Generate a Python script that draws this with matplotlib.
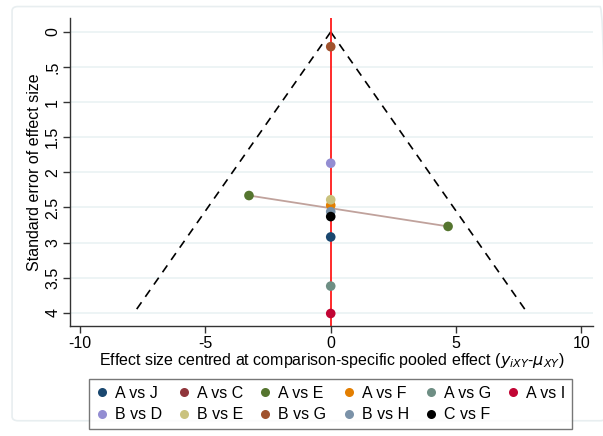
import matplotlib
matplotlib.use("Agg")
import matplotlib.pyplot as plt
from matplotlib.patches import FancyBboxPatch
from matplotlib.lines import Line2D
import numpy as np

plt.rcParams['font.family'] = ['Liberation Sans', 'DejaVu Sans']

comparisons = ["A vs J", "A vs C", "A vs E", "A vs F", "A vs G", "A vs I",
               "B vs D", "B vs E", "B vs G", "B vs H", "C vs F"]
colors = ["#1a476f", "#90353b", "#55752f", "#e37e00", "#6e8e84", "#c10534",
          "#938dd2", "#cac27e", "#a0522d", "#7b92a8", "#000000"]
# centred effect sizes and standard errors per comparison (lists: multiple studies)
effects = {
    "A vs J": [0.0], "A vs C": [], "A vs E": [-3.26, 4.68], "A vs F": [0.0],
    "A vs G": [0.0], "A vs I": [0.0], "B vs D": [0.0], "B vs E": [0.0],
    "B vs G": [0.0], "B vs H": [0.0], "C vs F": [0.0],
}
ses = {
    "A vs J": [2.92], "A vs C": [], "A vs E": [2.33, 2.77], "A vs F": [2.47],
    "A vs G": [3.62], "A vs I": [4.01], "B vs D": [1.87], "B vs E": [2.39],
    "B vs G": [0.21], "B vs H": [2.56], "C vs F": [2.63],
}
draw_order = ["A vs F", "B vs E", "B vs H", "C vs F", "A vs J", "A vs G", "A vs I",
              "B vs D", "B vs G", "A vs E", "A vs C"]
xticks = [-10, -5, 0, 5, 10]
yticks = [0, 0.5, 1, 1.5, 2, 2.5, 3, 3.5, 4]
yticklabels = ["0", ".5", "1", "1.5", "2", "2.5", "3", "3.5", "4"]
se_max = 4.0

fig = plt.figure(figsize=(6.03, 4.36), dpi=100)
fig.patches.append(FancyBboxPatch((0.02, 0.035), 0.985, 0.95, boxstyle="round,pad=0,rounding_size=0.01",
                                  transform=fig.transFigure, fill=False, edgecolor="#e8eef0", lw=1.2))
ax = fig.add_axes([0.116, 0.252, 0.867, 0.707])

for y in yticks:
    ax.axhline(y, color="#eaf2f3", lw=1.2, zorder=0)

# funnel
se_line = np.array([0, se_max])
ax.plot(-1.96 * se_line, se_line, ls=(0, (5, 4)), color="black", lw=1.2, zorder=1)
ax.plot(1.96 * se_line, se_line, ls=(0, (5, 4)), color="black", lw=1.2, zorder=1)
ax.axvline(0, color="#ff1a1a", lw=1.3, zorder=2)

cmap = dict(zip(comparisons, colors))
# line connecting studies from same comparison
ax.plot(effects["A vs E"], ses["A vs E"], color="#c0a29c", lw=1.3, zorder=3)
for c in draw_order:
    if effects[c]:
        ax.scatter(effects[c], ses[c], s=48, color=cmap[c], zorder=4, edgecolors="none")

ax.set_xlim(-10.4, 10.45)
ax.set_ylim(4.19, -0.2)
ax.set_xticks(xticks)
ax.set_xticklabels([str(t) for t in xticks])
ax.set_yticks(yticks)
ax.set_yticklabels(yticklabels, rotation=90, va="center")
for s in ["top", "right"]:
    ax.spines[s].set_visible(False)
for s in ["left", "bottom"]:
    ax.spines[s].set_color("#333333")
    ax.spines[s].set_linewidth(1.0)
ax.tick_params(axis="both", length=5, width=1, color="#333333", labelsize=11.5, pad=2)
ax.set_ylabel("Standard error of effect size", fontsize=11.5, labelpad=2)
ax.set_xlabel(r"Effect size centred at comparison-specific pooled effect ($y_{iXY}$-$\mu_{XY}$)",
              fontsize=11.5, labelpad=0)

# row-major ordering for a 6-column legend
ncol = 6
order = []
for col in range(ncol):
    for row in range(2):
        i = row * ncol + col
        if i < len(comparisons):
            order.append(i)
handles = [Line2D([0], [0], marker="o", ls="none", color=colors[i], markersize=6.5, markeredgewidth=0)
           for i in order]
labels = [comparisons[i] for i in order]
leg = fig.legend(handles, labels, ncol=ncol, loc="upper center", bbox_to_anchor=(0.548, 0.148),
                 fontsize=11.5, frameon=True, fancybox=False, edgecolor="#555555",
                 handletextpad=0.4, columnspacing=1.0, handlelength=0.8, borderpad=0.4,
                 labelspacing=0.4)
leg.get_frame().set_linewidth(1.0)

fig.savefig("out.png", dpi=100)
